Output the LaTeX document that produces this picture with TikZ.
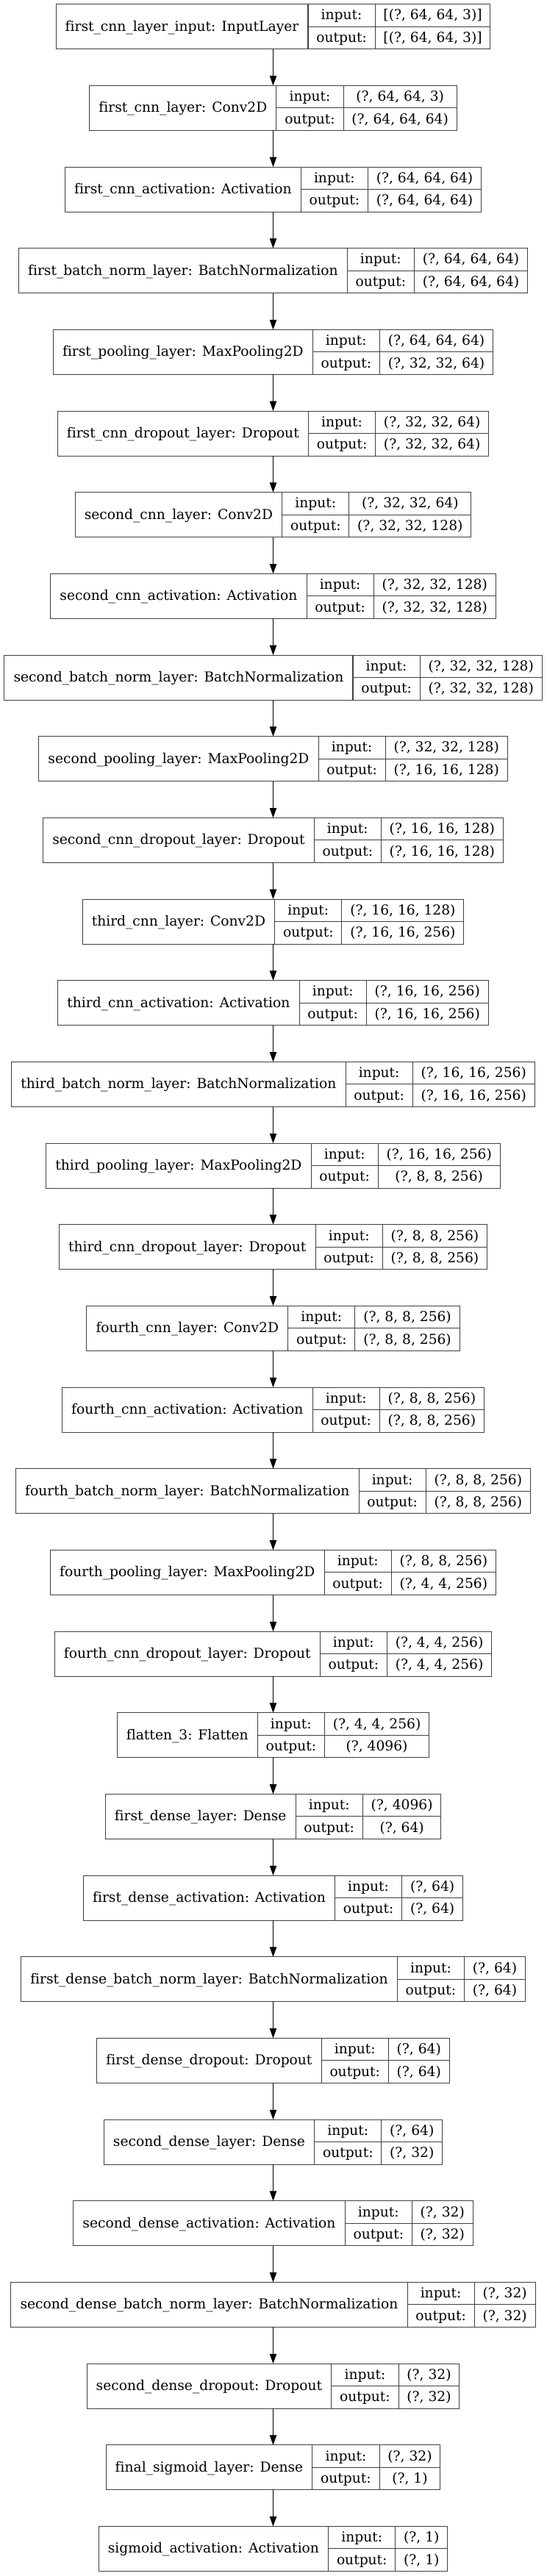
\documentclass[tikz,border=0pt]{standalone}
\usetikzlibrary{arrows.meta}
\font\recfnt="DejaVu Serif:-liga" at 14pt
\definecolor{recgray}{gray}{0.25}
\newcommand{\recfont}{\recfnt}
\tikzset{
    every node/.style={draw=recgray, line width=0.8pt, inner sep=0pt, outer sep=0pt,
        font=\recfont, text height=11pt, text depth=2pt, anchor=north west},
    lblcell/.style={minimum height=45.75pt},
    iocell/.style={minimum height=22.875pt},
    flow/.style={-{Triangle[length=10pt,width=7pt]}, line width=0.8pt, black}
}
\newlength{\lblw}
\newlength{\iow}
\newlength{\shpw}
\newlength{\tmpw}
% one keras record: name, top (pt), label, input shape, output shape
\newcommand{\kerasrec}[5]{%
    \settowidth{\lblw}{\recfont #3}\addtolength{\lblw}{19pt}%
    \settowidth{\iow}{\recfont output:}\addtolength{\iow}{17pt}%
    \settowidth{\shpw}{\recfont #4}\settowidth{\tmpw}{\recfont #5}%
    \ifdim\tmpw>\shpw\setlength{\shpw}{\tmpw}\fi
    \addtolength{\shpw}{17pt}%
    \pgfmathsetmacro{\recleft}{278.625-(\lblw+\iow+\shpw)/2}%
    \node[lblcell, minimum width=\lblw] (#1) at (\recleft pt, -#2 pt) {#3};
    \node[iocell, minimum width=\iow] (#1-i) at (#1.north east) {input:};
    \node[iocell, minimum width=\iow] (#1-o) at (#1-i.south west) {output:};
    \node[iocell, minimum width=\shpw] (#1-is) at (#1-i.north east) {#4};
    \node[iocell, minimum width=\shpw] (#1-os) at (#1-o.north east) {#5};
    \coordinate (#1-top) at (278.625pt, -#2 pt);
    \coordinate (#1-bot) at ([yshift=-45.75pt]#1-top);
}
\begin{document}
\begin{tikzpicture}
        \useasboundingbox (0,0) rectangle (557.25pt,-2628pt);
        \kerasrec{l0}{4.3}{first\_cnn\_layer\_input: InputLayer}{[(?, 64, 64, 3)]}{[(?, 64, 64, 3)]}
        \kerasrec{l1}{87.3}{first\_cnn\_layer: Conv2D}{(?, 64, 64, 3)}{(?, 64, 64, 64)}
        \kerasrec{l2}{170.3}{first\_cnn\_activation: Activation}{(?, 64, 64, 64)}{(?, 64, 64, 64)}
        \kerasrec{l3}{253.3}{first\_batch\_norm\_layer: BatchNormalization}{(?, 64, 64, 64)}{(?, 64, 64, 64)}
        \kerasrec{l4}{336.3}{first\_pooling\_layer: MaxPooling2D}{(?, 64, 64, 64)}{(?, 32, 32, 64)}
        \kerasrec{l5}{419.3}{first\_cnn\_dropout\_layer: Dropout}{(?, 32, 32, 64)}{(?, 32, 32, 64)}
        \kerasrec{l6}{502.3}{second\_cnn\_layer: Conv2D}{(?, 32, 32, 64)}{(?, 32, 32, 128)}
        \kerasrec{l7}{585.3}{second\_cnn\_activation: Activation}{(?, 32, 32, 128)}{(?, 32, 32, 128)}
        \kerasrec{l8}{668.3}{second\_batch\_norm\_layer: BatchNormalization}{(?, 32, 32, 128)}{(?, 32, 32, 128)}
        \kerasrec{l9}{751.3}{second\_pooling\_layer: MaxPooling2D}{(?, 32, 32, 128)}{(?, 16, 16, 128)}
        \kerasrec{l10}{834.3}{second\_cnn\_dropout\_layer: Dropout}{(?, 16, 16, 128)}{(?, 16, 16, 128)}
        \kerasrec{l11}{917.3}{third\_cnn\_layer: Conv2D}{(?, 16, 16, 128)}{(?, 16, 16, 256)}
        \kerasrec{l12}{1000.3}{third\_cnn\_activation: Activation}{(?, 16, 16, 256)}{(?, 16, 16, 256)}
        \kerasrec{l13}{1083.3}{third\_batch\_norm\_layer: BatchNormalization}{(?, 16, 16, 256)}{(?, 16, 16, 256)}
        \kerasrec{l14}{1166.3}{third\_pooling\_layer: MaxPooling2D}{(?, 16, 16, 256)}{(?, 8, 8, 256)}
        \kerasrec{l15}{1249.3}{third\_cnn\_dropout\_layer: Dropout}{(?, 8, 8, 256)}{(?, 8, 8, 256)}
        \kerasrec{l16}{1332.3}{fourth\_cnn\_layer: Conv2D}{(?, 8, 8, 256)}{(?, 8, 8, 256)}
        \kerasrec{l17}{1415.3}{fourth\_cnn\_activation: Activation}{(?, 8, 8, 256)}{(?, 8, 8, 256)}
        \kerasrec{l18}{1498.3}{fourth\_batch\_norm\_layer: BatchNormalization}{(?, 8, 8, 256)}{(?, 8, 8, 256)}
        \kerasrec{l19}{1581.3}{fourth\_pooling\_layer: MaxPooling2D}{(?, 8, 8, 256)}{(?, 4, 4, 256)}
        \kerasrec{l20}{1664.3}{fourth\_cnn\_dropout\_layer: Dropout}{(?, 4, 4, 256)}{(?, 4, 4, 256)}
        \kerasrec{l21}{1747.3}{flatten\_3: Flatten}{(?, 4, 4, 256)}{(?, 4096)}
        \kerasrec{l22}{1830.3}{first\_dense\_layer: Dense}{(?, 4096)}{(?, 64)}
        \kerasrec{l23}{1913.3}{first\_dense\_activation: Activation}{(?, 64)}{(?, 64)}
        \kerasrec{l24}{1996.3}{first\_dense\_batch\_norm\_layer: BatchNormalization}{(?, 64)}{(?, 64)}
        \kerasrec{l25}{2079.3}{first\_dense\_dropout: Dropout}{(?, 64)}{(?, 64)}
        \kerasrec{l26}{2162.3}{second\_dense\_layer: Dense}{(?, 64)}{(?, 32)}
        \kerasrec{l27}{2245.3}{second\_dense\_activation: Activation}{(?, 32)}{(?, 32)}
        \kerasrec{l28}{2328.3}{second\_dense\_batch\_norm\_layer: BatchNormalization}{(?, 32)}{(?, 32)}
        \kerasrec{l29}{2411.3}{second\_dense\_dropout: Dropout}{(?, 32)}{(?, 32)}
        \kerasrec{l30}{2494.3}{final\_sigmoid\_layer: Dense}{(?, 32)}{(?, 1)}
        \kerasrec{l31}{2577.3}{sigmoid\_activation: Activation}{(?, 1)}{(?, 1)}
        \draw[flow] (l0-bot) -- (l1-top);
        \draw[flow] (l1-bot) -- (l2-top);
        \draw[flow] (l2-bot) -- (l3-top);
        \draw[flow] (l3-bot) -- (l4-top);
        \draw[flow] (l4-bot) -- (l5-top);
        \draw[flow] (l5-bot) -- (l6-top);
        \draw[flow] (l6-bot) -- (l7-top);
        \draw[flow] (l7-bot) -- (l8-top);
        \draw[flow] (l8-bot) -- (l9-top);
        \draw[flow] (l9-bot) -- (l10-top);
        \draw[flow] (l10-bot) -- (l11-top);
        \draw[flow] (l11-bot) -- (l12-top);
        \draw[flow] (l12-bot) -- (l13-top);
        \draw[flow] (l13-bot) -- (l14-top);
        \draw[flow] (l14-bot) -- (l15-top);
        \draw[flow] (l15-bot) -- (l16-top);
        \draw[flow] (l16-bot) -- (l17-top);
        \draw[flow] (l17-bot) -- (l18-top);
        \draw[flow] (l18-bot) -- (l19-top);
        \draw[flow] (l19-bot) -- (l20-top);
        \draw[flow] (l20-bot) -- (l21-top);
        \draw[flow] (l21-bot) -- (l22-top);
        \draw[flow] (l22-bot) -- (l23-top);
        \draw[flow] (l23-bot) -- (l24-top);
        \draw[flow] (l24-bot) -- (l25-top);
        \draw[flow] (l25-bot) -- (l26-top);
        \draw[flow] (l26-bot) -- (l27-top);
        \draw[flow] (l27-bot) -- (l28-top);
        \draw[flow] (l28-bot) -- (l29-top);
        \draw[flow] (l29-bot) -- (l30-top);
        \draw[flow] (l30-bot) -- (l31-top);
\end{tikzpicture}
\end{document}
